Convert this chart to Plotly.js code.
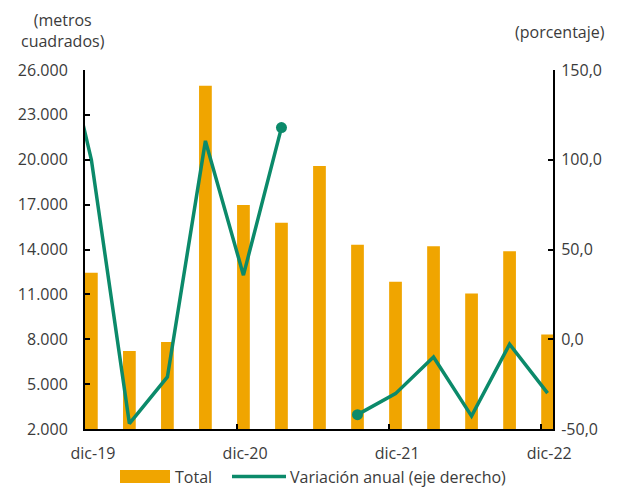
<!DOCTYPE html>
<html>
<head>
<meta charset="utf-8">
<script src="https://cdn.plot.ly/plotly-3.0.1.min.js"></script>
<style>
  html, body { margin: 0; padding: 0; background: #ffffff; }
  #chart { width: 619px; height: 487px; }
</style>
</head>
<body>
<div id="chart"></div>
<script>
// Quarterly categories (index 0 = dic-19)
const quarters = ['dic-19','mar-20','jun-20','sep-20','dic-20','mar-21','jun-21','sep-21','dic-21','mar-22','jun-22','sep-22','dic-22'];
// Total (metros cuadrados)
const total = [12440, 7220, 7820, 24950, 16970, 15780, 19580, 14310, 11840, 14220, 11060, 13890, 8320];
// Variación anual (porcentaje, eje derecho); null = no data
const variacion = [100, -47, -21, 110.5, 35.7, 117.9, null, -42, -30.3, -9.9, -42.8, -2.8, -30];
// Previous quarter (sep-19), lies left of the visible range
const variacionSep19 = 190;

// Axis tick labels
const xTickIdx = [0, 4, 8, 12];
const xTickText = ['dic-19', 'dic-20', 'dic-21', 'dic-22'];
const y2TickVals = [-50, 0, 50, 100, 150];
const y2TickText = ['-50,0', '0,0', '50,0', '100,0', '150,0'];

// Legend labels
const legendLabels = ['Total', 'Variación anual (eje derecho)'];

const FONT = '"Open Sans", Lato, sans-serif';
const FS = 16;
const TXT = '#3b3b3b';
const ORANGE = '#F0A500';
const GREEN = '#0B8A6A';
const BAR_W = 0.335;           // bar width in quarter units
const mid = BAR_W / 2;         // data points sit mid-bar, right of tick

const W = 619, H = 487;
const M = { l: 85, r: 66, t: 70, b: 58 };
const PW = W - M.l - M.r, PH = H - M.t - M.b;
const px2x = px => (px - M.l) / PW;
const py2y = py => (H - M.b - py) / PH;

const idx = quarters.map((q, i) => i);
const lineX = [-1 + mid].concat(idx.map(i => i + mid));
const lineY = [variacionSep19].concat(variacion);
const markerSizes = lineY.map((v, i) => {
  if (v === null) return 0;
  const prevNull = (i > 0 && lineY[i - 1] === null);
  const nextNull = (i < lineY.length - 1 && lineY[i + 1] === null);
  return (prevNull || nextNull) ? 11 : 0;
});

const barTrace = {
  type: 'bar',
  name: legendLabels[0],
  x: idx.map(i => i + mid),
  y: total,
  width: BAR_W,
  marker: { color: ORANGE, line: { width: 0 } },
  yaxis: 'y',
  showlegend: false,
  hoverinfo: 'skip'
};

const lineTrace = {
  type: 'scatter',
  mode: 'lines+markers',
  name: legendLabels[1],
  x: lineX,
  y: lineY,
  yaxis: 'y2',
  line: { color: GREEN, width: 3.5 },
  marker: { color: GREEN, size: markerSizes, opacity: 1, line: { width: 0 } },
  connectgaps: false,
  cliponaxis: true,
  showlegend: false,
  hoverinfo: 'skip'
};

const axisCommon = {
  ticks: 'inside',
  ticklen: 5,
  tickwidth: 2,
  tickcolor: '#000000',
  showline: true,
  linecolor: '#000000',
  linewidth: 2,
  showgrid: false,
  zeroline: false,
  fixedrange: true
};

const legendY = 476.5;
const layout = {
  width: W,
  height: H,
  margin: M,
  paper_bgcolor: '#ffffff',
  plot_bgcolor: '#ffffff',
  separators: ',.',
  font: { family: FONT, size: FS, color: TXT },
  showlegend: false,
  xaxis: Object.assign({}, axisCommon, {
    range: [0, 12.31],
    tickvals: xTickIdx,
    ticktext: xTickText,
    ticklabelshift: 8,
    ticklabelstandoff: 9
  }),
  yaxis: Object.assign({}, axisCommon, {
    range: [2000, 26000],
    dtick: 3000,
    tick0: 2000,
    tickformat: ',d',
    ticklabelstandoff: 12
  }),
  yaxis2: Object.assign({}, axisCommon, {
    overlaying: 'y',
    side: 'right',
    range: [-50, 150],
    tickvals: y2TickVals,
    ticktext: y2TickText,
    ticklabelstandoff: 3
  }),
  shapes: [
    { type: 'rect', xref: 'paper', yref: 'paper',
      x0: px2x(120), x1: px2x(170), y0: py2y(legendY + 6.5), y1: py2y(legendY - 6.5),
      fillcolor: ORANGE, line: { width: 0 } },
    { type: 'line', xref: 'paper', yref: 'paper',
      x0: px2x(232), x1: px2x(286), y0: py2y(legendY), y1: py2y(legendY),
      line: { color: GREEN, width: 3.5 } }
  ],
  annotations: [
    {
      text: '(metros<br>cuadrados)',
      xref: 'paper', yref: 'paper',
      x: px2x(63), y: py2y(30.5),
      xanchor: 'center', yanchor: 'middle',
      showarrow: false, align: 'center'
    },
    {
      text: '(porcentaje)',
      xref: 'paper', yref: 'paper',
      x: px2x(607), y: py2y(32),
      xanchor: 'right', yanchor: 'middle',
      showarrow: false
    },
    {
      text: legendLabels[0],
      xref: 'paper', yref: 'paper',
      x: px2x(174), y: py2y(legendY),
      xanchor: 'left', yanchor: 'middle',
      showarrow: false, borderpad: 0
    },
    {
      text: legendLabels[1],
      xref: 'paper', yref: 'paper',
      x: px2x(289), y: py2y(legendY),
      xanchor: 'left', yanchor: 'middle',
      showarrow: false, borderpad: 0
    }
  ]
};

Plotly.newPlot('chart', [barTrace, lineTrace], layout, { displayModeBar: false, staticPlot: true });
</script>
</body>
</html>
